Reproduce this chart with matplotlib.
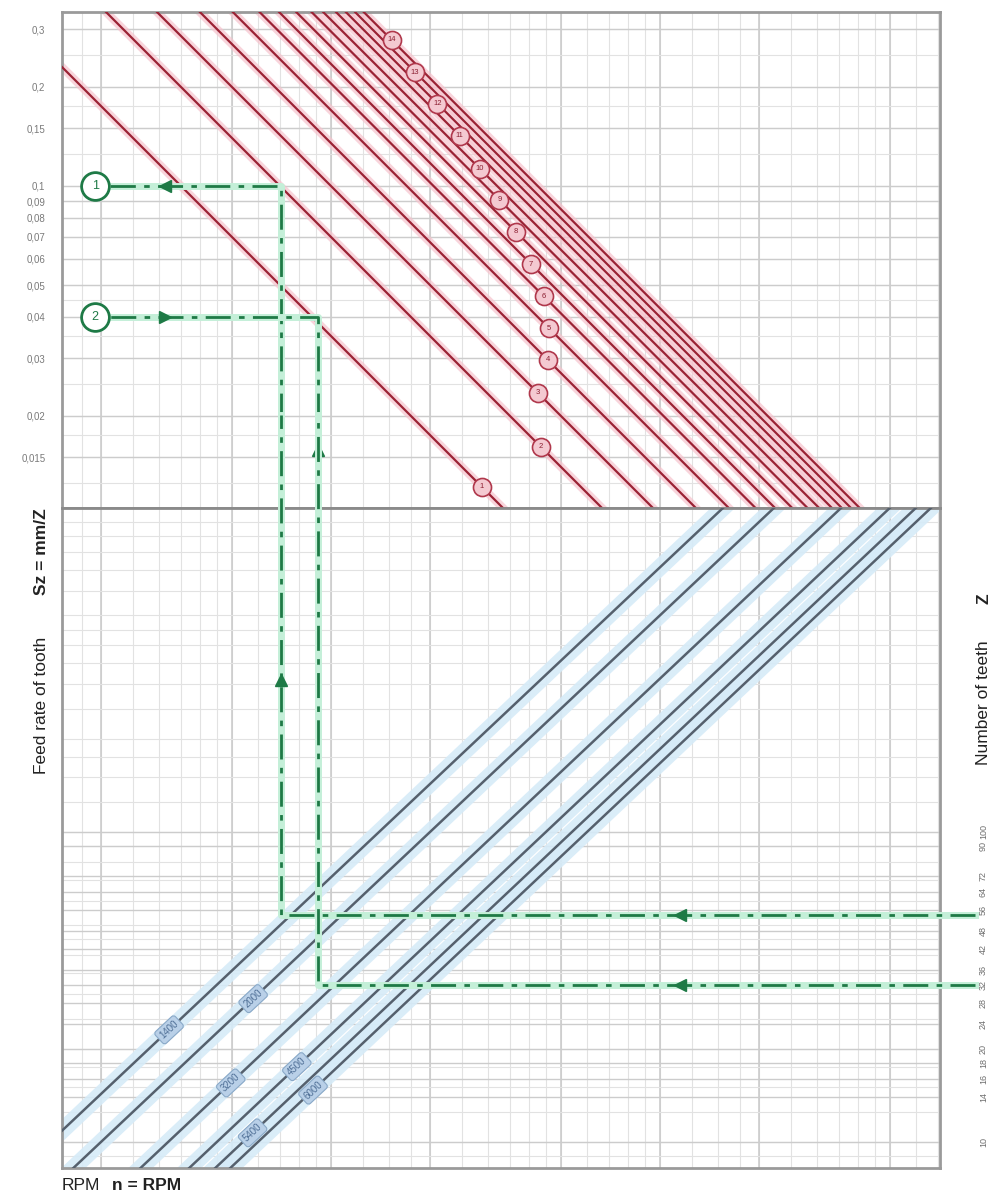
import numpy as np
import matplotlib.pyplot as plt
from matplotlib.ticker import NullLocator

plt.rcParams['font.family'] = ['Liberation Sans', 'DejaVu Sans']

# left scale: feed rate of tooth Sz (mm per tooth)
sz_ticks = [0.3, 0.2, 0.15, 0.1, 0.09, 0.08, 0.07, 0.06, 0.05, 0.04, 0.03, 0.02, 0.015]
sz_labels = ["0,3", "0,2", "0,15", "0,1", "0,09", "0,08", "0,07", "0,06",
             "0,05", "0,04", "0,03", "0,02", "0,015"]

# right scale: number of teeth Z
z_ticks = [100, 90, 72, 64, 56, 48, 42, 36, 32, 28, 24, 20, 18, 16, 14, 10]

# red lines: feed speed (m/min), Sz = F*1000 / (n*Z)
feed_rates = [3.5, 7, 10, 13.5, 17, 20.5, 23.5, 26.5, 29.5, 32, 35, 37.5, 40, 42.5]
feed_label_sz = [0.0122, 0.0161, 0.0235, 0.0296, 0.037, 0.0463, 0.0579, 0.0725,
                 0.0907, 0.113, 0.142, 0.178, 0.222, 0.278]

# blue lines: RPM n, Z = (n*Z) / n
rpm_lines = [1400, 2000, 3200, 4500, 5400, 6000]
rpm_label_z = [23, 29, 15.5, 17.5, 10.7, 14.7]

# worked examples (green paths)
ex_names = ["1", "2"]
ex_teeth = [54, 32]
ex_product = [70500, 91300]   # n*Z where the path turns up
ex_sz = [0.1, 0.04]

# n*Z range of the chart and the axis ranges
x_lo, x_hi = 1.522e4, 7.10e6
sz_lo, sz_hi = 0.0105, 0.338
z_lo, z_hi = 8.24, 1110


def log_grid(lo, hi, steps):
    vals = []
    for k in range(int(np.floor(np.log10(lo))), int(np.ceil(np.log10(hi))) + 1):
        for m in steps:
            v = m * 10.0 ** k
            if lo < v < hi:
                vals.append(v)
    return vals


fig = plt.figure(figsize=(9.94, 11.98), dpi=100)
L, W = 62 / 994, 878 / 994
ax_top = fig.add_axes([L, 1 - 508 / 1198, W, 496 / 1198])
ax_bot = fig.add_axes([L, 1 - 1168 / 1198, W, 660 / 1198])

for ax, (lo, hi) in ((ax_top, (sz_lo, sz_hi)), (ax_bot, (z_lo, z_hi))):
    ax.set_xscale('log')
    ax.set_yscale('log')
    ax.set_xlim(x_lo, x_hi)
    ax.set_ylim(lo, hi)
    ax.xaxis.set_major_locator(NullLocator())
    ax.xaxis.set_minor_locator(NullLocator())
    ax.yaxis.set_minor_locator(NullLocator())
    for s in ax.spines.values():
        s.set_color('#9a9a9a')
        s.set_linewidth(2)
    # grid
    for v in log_grid(x_lo, x_hi, [1, 1.25, 1.5, 1.75, 2, 2.5, 3, 3.5, 4, 4.5, 5, 6, 7, 8, 9]):
        ax.axvline(v, color='#e2e2e2', lw=0.8, zorder=0)
    for v in log_grid(x_lo, x_hi, [1, 2, 5]):
        ax.axvline(v, color='#c8c8c8', lw=1.1, zorder=0)
    for v in log_grid(lo, hi, [1, 1.25, 1.5, 1.75, 2, 2.5, 3, 3.5, 4, 4.5, 5, 6, 7, 8, 9]):
        ax.axhline(v, color='#e2e2e2', lw=0.8, zorder=0)

for v in sz_ticks:
    ax_top.axhline(v, color='#cccccc', lw=1.0, zorder=0)
for v in z_ticks:
    ax_bot.axhline(v, color='#cccccc', lw=1.0, zorder=0)

ax_top.spines['bottom'].set_color('#8a8a8a')
ax_bot.spines['top'].set_color('#8a8a8a')

# left tick labels
ax_top.set_yticks(sz_ticks)
ax_top.set_yticklabels(sz_labels)
ax_top.tick_params(axis='y', length=0, pad=12, labelsize=7, labelcolor='#7a7a7a')

# right tick labels
ax_bot.yaxis.tick_right()
ax_bot.set_yticks(z_ticks)
ax_bot.set_yticklabels([str(z) for z in z_ticks], rotation=90, va='center')
ax_bot.tick_params(axis='y', length=0, pad=28, labelsize=6.5, labelcolor='#6e6e6e')

xs = np.array([x_lo, x_hi])

# red feed lines
for i, f in enumerate(feed_rates):
    ys = f * 1000 / xs
    ax_top.plot(xs, ys, color='#f6c2cc', lw=6, alpha=0.7, zorder=2)
    ax_top.plot(xs, ys, color='#9b2335', lw=1.6, zorder=3)
    sz = feed_label_sz[i]
    ax_top.plot(f * 1000 / sz, sz, 'o', ms=13, mfc='#f4c9d1', mec='#b0384c', mew=1.2, zorder=5)
    ax_top.text(f * 1000 / sz, sz, str(i + 1), fontsize=5.5, color='#8b1e30',
                ha='center', va='center', zorder=6)

# blue RPM lines
for i, n in enumerate(rpm_lines):
    ys = xs / n
    ax_bot.plot(xs, ys, color='#d6ebf8', lw=12, alpha=0.9, zorder=2)
    ax_bot.plot(xs, ys, color='#55606d', lw=1.8, zorder=3)
    z = rpm_label_z[i]
    ax_bot.text(z * n, z, str(n), fontsize=7, color='#4f6f96', rotation=43,
                ha='center', va='center', zorder=6,
                bbox=dict(boxstyle='round,pad=0.3', fc='#b9d0e8', ec='#8aa9c8', lw=0.8))

# green example paths
green = '#1e7a46'
dash = (0, (9, 3, 2, 3))
x_right, x_label = 9.1e6, 1.92e4
for i in range(2):
    z, p, sz = ex_teeth[i], ex_product[i], ex_sz[i]
    for lw, col, ls in ((5, '#c4efd8', '-'), (2, green, dash)):
        ax_bot.plot([x_right, p, p], [z, z, z_hi * 2], color=col, lw=lw, ls=ls,
                    zorder=4, clip_on=False)
        ax_top.plot([p, p, x_label], [sz_lo / 2, sz, sz], color=col, lw=lw, ls=ls, zorder=4)
    ax_top.plot(x_label, sz, 'o', ms=20, mfc='white', mec=green, mew=2, zorder=7, clip_on=False)
    ax_top.text(x_label, sz, ex_names[i], fontsize=9, color=green, ha='center', va='center', zorder=8)

# arrow heads on the paths
ax_bot.plot([1.15e6, 1.15e6], ex_teeth, '<', ms=9, color=green, zorder=6)
ax_bot.plot([ex_product[0]], [309], '^', ms=9, color=green, zorder=6)
ax_top.plot([ex_product[1]], [0.0158], '^', ms=9, color=green, zorder=6)
ax_top.plot([3.13e4], [ex_sz[0]], '<', ms=9, color=green, zorder=6)
ax_top.plot([3.13e4], [ex_sz[1]], '>', ms=9, color=green, zorder=6)


# axis titles
def px(x, y):
    return x / 994, 1 - y / 1198


fig.text(*px(42, 705), "Feed rate of tooth", rotation=90, fontsize=12.5,
         ha='center', va='center', color='#222222')
fig.text(*px(42, 552), "Sz = mm/Z", rotation=90, fontsize=12.5, fontweight='bold',
         ha='center', va='center', color='#222222')
fig.text(*px(984, 703), "Number of teeth", rotation=90, fontsize=12.5,
         ha='center', va='center', color='#222222')
fig.text(*px(984, 599), "Z", rotation=90, fontsize=12.5, fontweight='bold',
         ha='center', va='center', color='#222222')
fig.text(*px(62, 1185), "RPM", fontsize=12.5, ha='left', va='center', color='#222222')
fig.text(*px(112, 1185), "n = RPM", fontsize=12.5, fontweight='bold',
         ha='left', va='center', color='#222222')

fig.savefig("out.png", dpi=100)
